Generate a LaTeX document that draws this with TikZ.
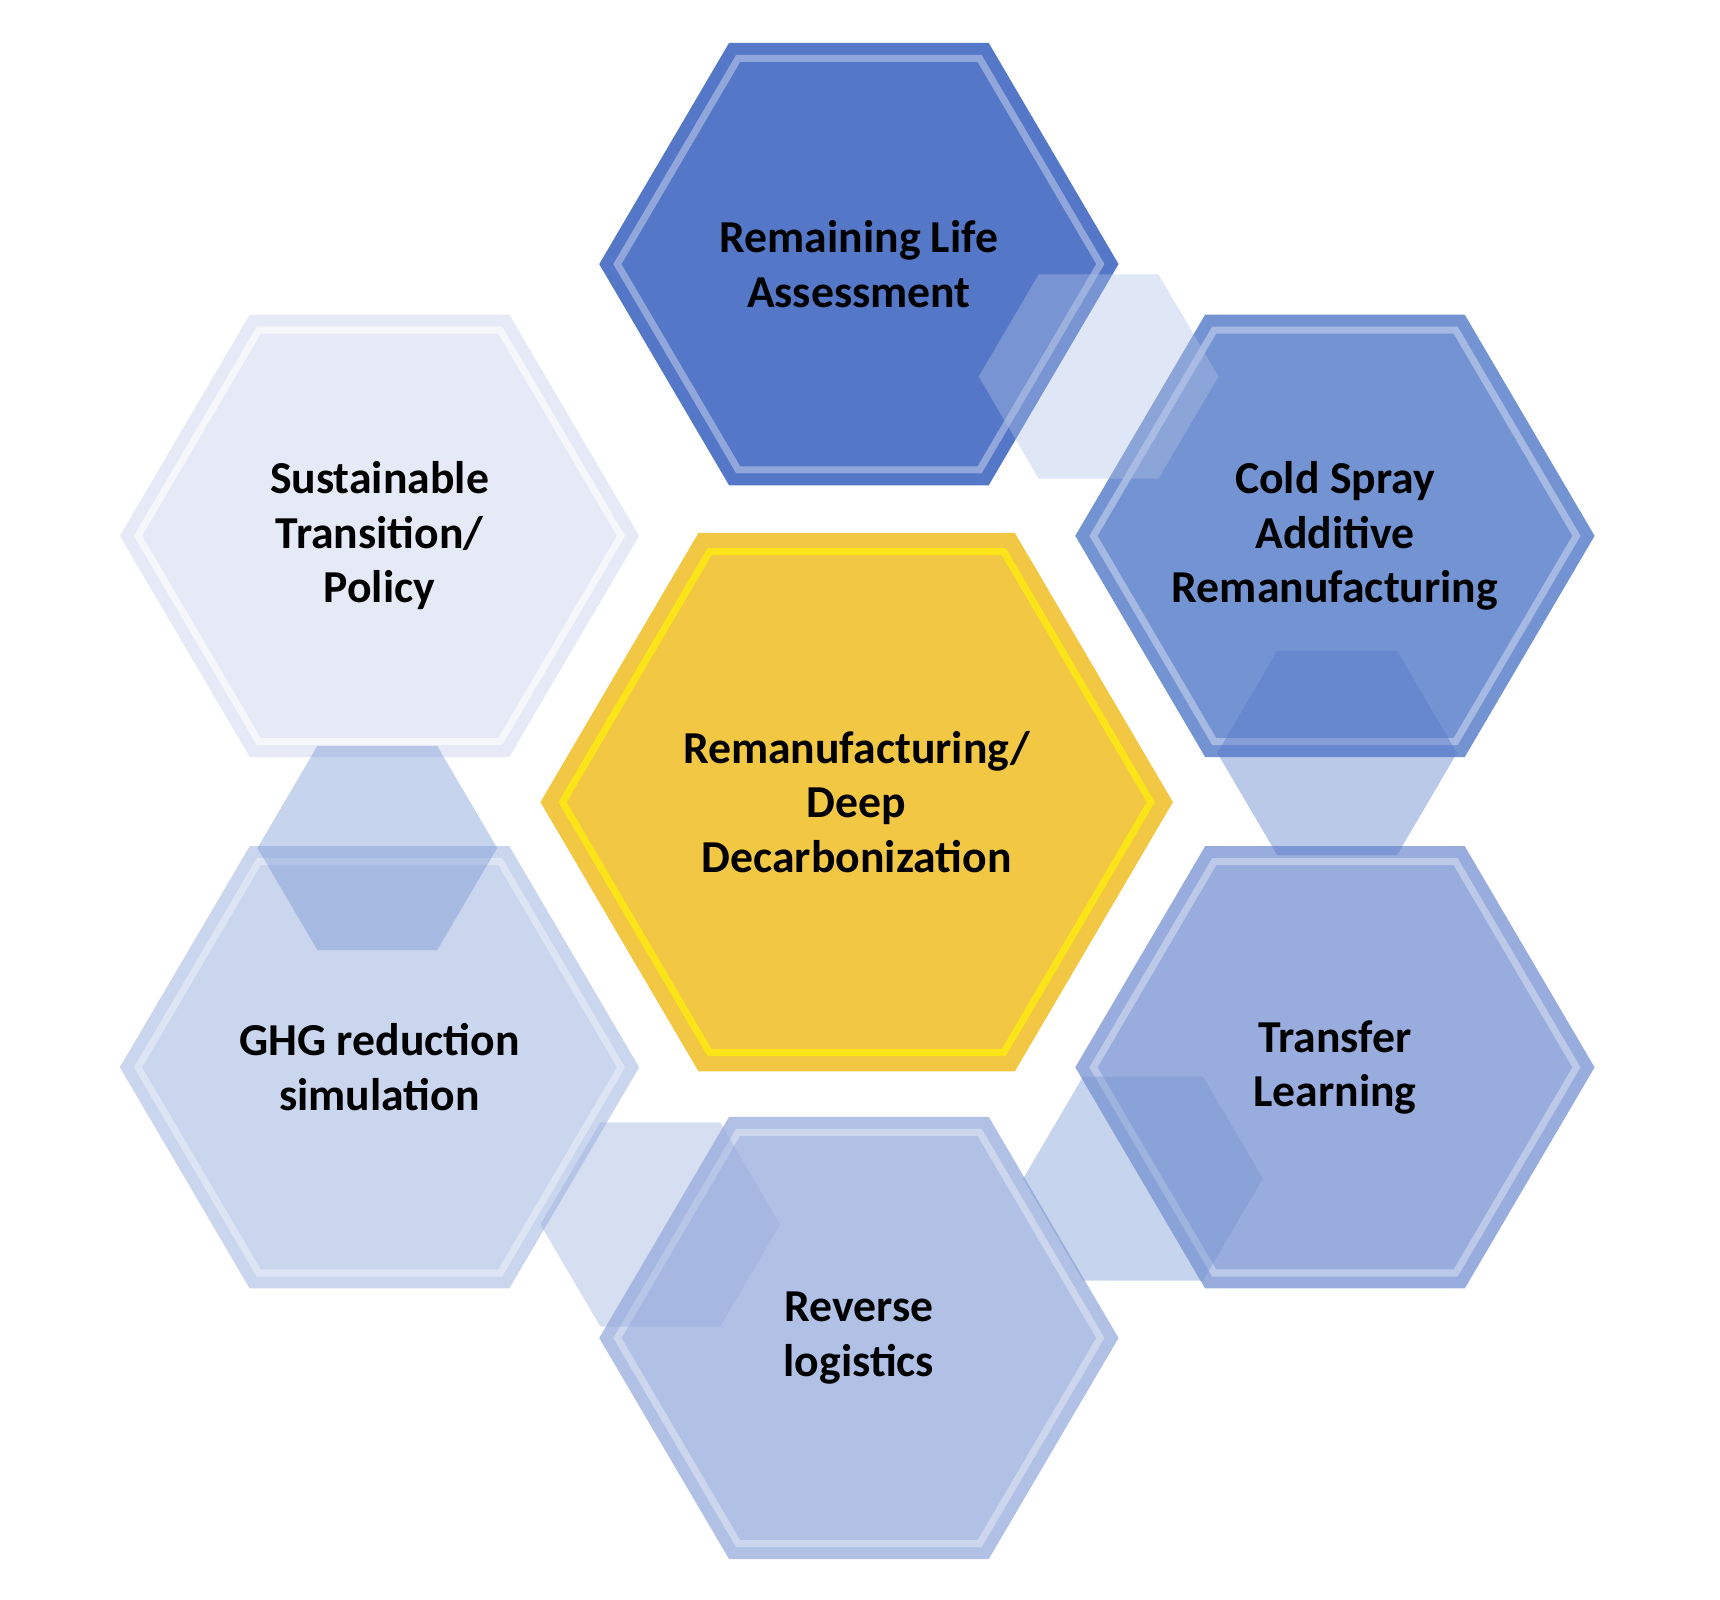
\documentclass[tikz,border=0pt]{standalone}
\usepackage{fontspec}
\setmainfont{Carlito}
\usepackage{tikz}
\usetikzlibrary{positioning}
\definecolor{hexA}{HTML}{5577C8}
\definecolor{hexB}{HTML}{7493D2}
\definecolor{hexC}{HTML}{98ACDD}
\definecolor{hexD}{HTML}{B0C1E5}
\definecolor{hexE}{HTML}{CAD5EE}
\definecolor{hexF}{HTML}{E6EAF6}
\definecolor{hexY}{HTML}{F2C744}
\newcommand{\hexcell}[4]{% center, radius, fill, edge
  \fill[#3] ($#1+(0:#2)$) \foreach \a in {60,120,...,300} {-- ($#1+(\a:#2)$)} -- cycle;
  \draw[#4,line width=2pt] ($#1+(0:0.93*#2)$) \foreach \a in {60,120,...,300} {-- ($#1+(\a:0.93*#2)$)} -- cycle;
}
\usetikzlibrary{calc}
\begin{document}
\begin{tikzpicture}[x=0.011097cm,y=-0.010914cm,
    label/.style={font=\bfseries\fontsize{13}{15.5}\selectfont,align=center,text=black},
    link/.style={fill=#1,fill opacity=0.4}]
  \useasboundingbox (0,0) rectangle (1550,1466);
  % outer ring
  \hexcell{(774,242)}{234}{hexA}{white!35!hexA}
  \hexcell{(1203,491)}{234}{hexB}{white!35!hexB}
  \hexcell{(1203,978)}{234}{hexC}{white!35!hexC}
  \hexcell{(774,1226)}{234}{hexD}{white!35!hexD}
  \hexcell{(342,978)}{234}{hexE}{white!35!hexE}
  \hexcell{(342,491)}{234}{hexF}{white!60!hexF}
  % small links between cells
  \fill[link=hexD] ($(990,345)+(0:108)$) \foreach \a in {60,120,...,300} {-- ($(990,345)+(\a:108)$)} -- cycle;
  \fill[link=hexA] ($(1205,690)+(0:108)$) \foreach \a in {60,120,...,300} {-- ($(1205,690)+(\a:108)$)} -- cycle;
  \fill[link=hexB] ($(1030,1080)+(0:108)$) \foreach \a in {60,120,...,300} {-- ($(1030,1080)+(\a:108)$)} -- cycle;
  \fill[link=hexC] ($(595,1122)+(0:108)$) \foreach \a in {60,120,...,300} {-- ($(595,1122)+(\a:108)$)} -- cycle;
  \fill[link=hexB] ($(340,777)+(0:108)$) \foreach \a in {60,120,...,300} {-- ($(340,777)+(\a:108)$)} -- cycle;
  % centre
  \hexcell{(772,735)}{285}{hexY}{yellow!70!hexY}
  \node[label] (life) at (774,242) {Remaining Life\\Assessment};
  \node[label] (spray) at (1203,491) {Cold Spray\\Additive\\Remanufacturing};
  \node[label] (transfer) at (1203,978) {Transfer\\Learning};
  \node[label] (reverse) at (774,1226) {Reverse\\logistics};
  \node[label] (ghg) at (342,978) {GHG reduction\\simulation};
  \node[label] (policy) at (342,491) {Sustainable\\Transition/\\Policy};
  \node[label] (core) at (772,735) {Remanufacturing/\\Deep\\Decarbonization};
\end{tikzpicture}
\end{document}
